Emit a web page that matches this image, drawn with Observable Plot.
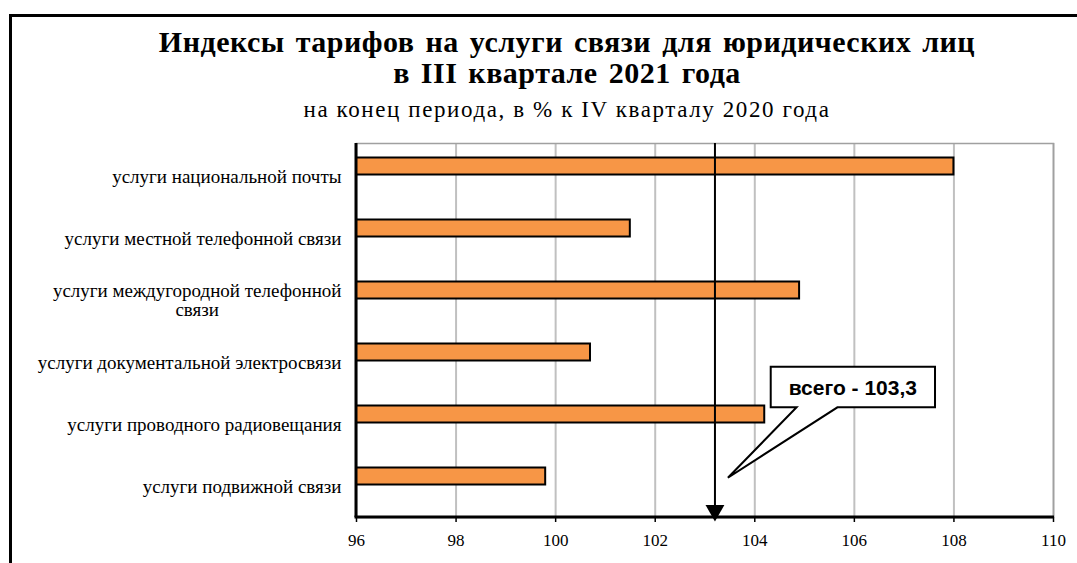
<!DOCTYPE html>
<html>
<head>
<meta charset="utf-8">
<script src="https://cdn.jsdelivr.net/npm/d3@7"></script>
<script src="https://cdn.jsdelivr.net/npm/@observablehq/plot@0.6"></script>
<style>
  body { margin: 0; background: #fff; }
  #wrap { position: relative; width: 1077px; height: 563px; overflow: hidden; background: #fff;
          font-family: "Liberation Serif", "Times New Roman", serif; color: #000; }
  #frameTop { position: absolute; left: 9px; top: 14px; width: 1068px; height: 3px; background: #000; z-index: 3; }
  #frameLeft { position: absolute; left: 9px; top: 14px; width: 3px; height: 549px; background: #000; z-index: 3; }
  #title { position: absolute; top: 26px; left: 0; width: 1134px; text-align: center;
           font-weight: bold; font-size: 30px; line-height: 31px; letter-spacing: 0.5px; word-spacing: 3px; }
  #subtitle { position: absolute; top: 97px; left: 0; width: 1134px; text-align: center;
              font-size: 23px; line-height: 26px; letter-spacing: 1.6px; }
  #chart { position: absolute; left: 0; top: 130px; }
  #chart svg text { font-family: "Liberation Serif", "Times New Roman", serif; }
</style>
</head>
<body>
<div id="wrap">
  <div id="frameTop"></div>
  <div id="frameLeft"></div>
  <div id="title">Индексы тарифов на услуги связи для юридических лиц<br>в III квартале 2021 года</div>
  <div id="subtitle">на конец периода, в % к IV кварталу 2020 года</div>
  <div id="chart"></div>
</div>
<script>
// ---- data ----
const categories = [
  "услуги национальной почты",
  "услуги местной телефонной связи",
  "услуги междугородной телефонной\nсвязи",
  "услуги документальной электросвязи",
  "услуги проводного радиовещания",
  "услуги подвижной связи"
];
const values = [108.0, 101.5, 104.9, 100.7, 104.2, 99.8];
const xTicks = [96, 98, 100, 102, 104, 106, 108, 110];
const xDomain = [96, 110];
const totalValue = 103.2;
const totalLabel = "всего - 103,3";
// callout annotation: x in data units, y in row units (0 = top of first row)
const calloutBox = {x1: 104.33, x2: 107.63, r1: 3.59, r2: 4.24};
const calloutTail = {xa: 104.85, xb: 105.67, xTip: 103.47, rTip: 5.37};

const rows = categories.map((c, i) => ({cat: c, value: values[i]}));

const W = 1077, H = 433, mT = 13, mB = 46, mL = 356, mR = 24;

function overlay(index, scales, values, dims) {
  const x = d3.scaleLinear(xDomain, [dims.marginLeft, dims.width - dims.marginRight]);
  const top = dims.marginTop;
  const bottom = dims.height - dims.marginBottom;
  const bw = (bottom - top) / categories.length;
  const r = v => top + v * bw;
  const g = d3.create("svg:g");
  g.append("line").attr("x1", x(xDomain[0]) - 1.5).attr("x2", x(xDomain[1]) + 1)
    .attr("y1", bottom).attr("y2", bottom).attr("stroke", "#000").attr("stroke-width", 3);
  g.append("line").attr("x1", x(xDomain[0])).attr("x2", x(xDomain[0]))
    .attr("y1", top).attr("y2", bottom).attr("stroke", "#000").attr("stroke-width", 3);
  const bx1 = x(calloutBox.x1), bx2 = x(calloutBox.x2), by1 = r(calloutBox.r1), by2 = r(calloutBox.r2);
  const p = `M${bx1},${by1}H${bx2}V${by2}H${x(calloutTail.xb)}L${x(calloutTail.xTip)},${r(calloutTail.rTip)}L${x(calloutTail.xa)},${by2}H${bx1}Z`;
  g.append("path").attr("d", p).attr("fill", "#fff").attr("stroke", "#000").attr("stroke-width", 2);
  g.append("text").attr("x", (bx1 + bx2) / 2).attr("y", (by1 + by2) / 2).attr("dy", "0.36em")
    .attr("text-anchor", "middle")
    .attr("style", "font-family: 'Liberation Sans', Arial, sans-serif; font-weight: bold; font-size: 21px;")
    .attr("fill", "#000").text(totalLabel);
  return g.node();
}

const chart = Plot.plot({
  width: W, height: H,
  marginTop: mT, marginBottom: mB, marginLeft: mL, marginRight: mR,
  style: {background: "transparent", color: "#000"},
  x: {domain: xDomain, ticks: xTicks, label: null},
  y: {domain: categories, padding: 0, label: null},
  marks: [
    Plot.ruleX(xTicks.slice(1), {stroke: "#c0c0c0", strokeWidth: 2}),
    Plot.frame({stroke: "#a0a0a0", strokeWidth: 1.5}),
    Plot.barX(rows, {x1: xDomain[0], x2: "value", y: "cat", fill: "#F79646", stroke: "#000",
      strokeWidth: 2, insetTop: 13.5, insetBottom: 31.5}),
    Plot.ruleX([totalValue], {stroke: "#000", strokeWidth: 2}),
    Plot.dot([totalValue], {x: d => d, frameAnchor: "bottom", symbol: "triangle", r: 7,
      fill: "#000", stroke: null, rotate: 180, dy: -7}),
    Plot.axisX({ticks: xTicks, tickSize: 5, tickPadding: 11, stroke: "#000", strokeWidth: 1.5,
      tickFormat: d => String(d), fontSize: 17, label: null}),
    Plot.axisY({tickSize: 0, tickPadding: 15, fontSize: 19, label: null, lineHeight: 1.0, dy: 1}),
    overlay
  ]
});
document.getElementById("chart").appendChild(chart);

// centre the wrapped second line of a two-line category label under its first line
const cv = document.createElement("canvas").getContext("2d");
cv.font = "19px 'Liberation Serif'";
chart.querySelectorAll("text").forEach(t => {
  const spans = t.querySelectorAll("tspan");
  if (spans.length === 2) {
    const w = cv.measureText(spans[0].textContent).width;
    spans[1].setAttribute("x", -w / 2);
    spans[1].setAttribute("text-anchor", "middle");
  }
});
</script>
</body>
</html>
